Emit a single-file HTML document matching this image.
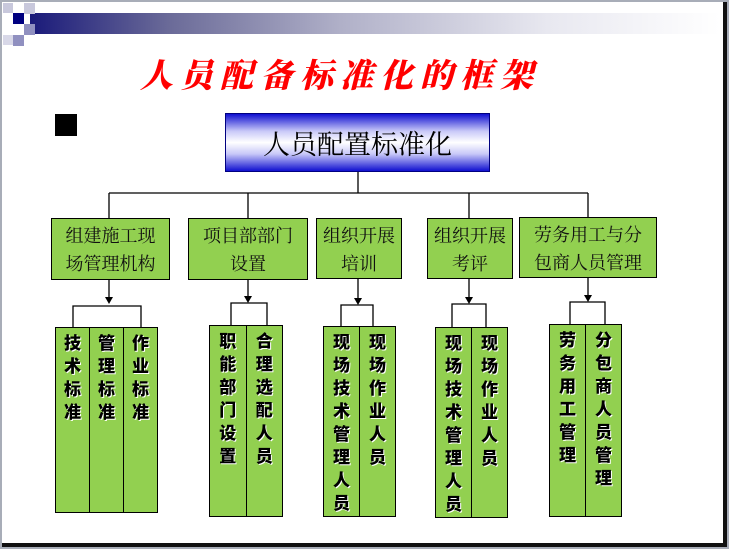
<!DOCTYPE html>
<html><head><meta charset="utf-8"><style>
body{margin:0;width:729px;height:549px;background:#a8adb8;position:relative;overflow:hidden;font-family:"Liberation Sans","Noto Sans CJK SC",sans-serif}
.slide{position:absolute;left:2px;top:2px;width:721px;height:541px;background:#fff;border-right:4px solid #111;border-bottom:4px solid #111}
.a{position:absolute}
.mid{position:absolute;background:#92d050;border:1.5px solid #000;box-sizing:border-box;font-family:"Noto Serif CJK SC","Noto Sans CJK SC",serif;font-size:18px;line-height:28px;text-align:center;display:flex;align-items:center;justify-content:center;color:#111}
.col{position:absolute;background:#92d050;border:1.5px solid #000;box-sizing:border-box;display:flex}
.col div{flex:1;border-left:1.5px solid #000;font-family:"Noto Sans CJK SC",sans-serif;font-weight:900;font-size:17px;line-height:23px;text-align:center;padding-top:2px;text-shadow:1px 1px 0 #fff;color:#000;word-break:break-all}
.col div:first-child{border-left:none}
</style></head><body>
<div class="slide"></div>
<div class="a" style="left:30px;top:13px;width:690px;height:21px;background:linear-gradient(90deg,#1a1a7a,#6a6a98 20%,#b0b0c8 45%,#e8e8f0 75%,#fff)"></div>
<div class="a" style="left:3px;top:3px;width:10px;height:10px;background:#c8c8dc"></div>
<div class="a" style="left:13px;top:13px;width:11px;height:11px;background:#000080"></div>
<div class="a" style="left:24px;top:3px;width:11px;height:11px;background:#c8c8dc"></div>
<div class="a" style="left:24px;top:24px;width:11px;height:11px;background:#9090c0"></div>
<div class="a" style="left:13px;top:35px;width:11px;height:11px;background:#9090c0"></div>
<div class="a" style="left:3px;top:35px;width:10px;height:10px;background:#d8d8e8"></div>
<div class="a" style="left:130px;top:50px;width:420px;text-align:center;color:#ff0000;font-family:'Noto Serif CJK SC',serif;font-weight:900;font-size:33px;letter-spacing:7px;font-style:italic">人员配备标准化的框架</div>
<div class="a" style="left:55px;top:114px;width:22px;height:22px;background:#000"></div>
<div class="a" style="left:225px;top:113px;width:265px;height:59px;border:1px solid #000080;box-sizing:border-box;background:linear-gradient(180deg,#1010d0,#c8c8f8 30%,#fff 50%,#c8c8f8 70%,#1010d0);text-align:center;font-family:'Noto Serif CJK SC',serif;font-size:27px;line-height:57px;color:#000">人员配置标准化</div>
<svg class="a" style="left:0;top:0" width="729" height="549">
<g stroke="#000" stroke-width="1.3" fill="none">
<path d="M358 172V193M109 193H588M109 193V218M248 193V218M469 193V218M588 193V217"/>
<path d="M109 280V297M248 280V296M358 279V298M469 279V297M588 278V296"/>
<path d="M73 327V306H141V327M231 325V303H267V325M341 326V305H373V326M452 327V304H486V327M570 324V302H605V324"/>
</g>
<g fill="#000">
<path d="M105 297h8l-4 7z"/><path d="M244 296h8l-4 7z"/><path d="M354 298h8l-4 7z"/><path d="M465 297h8l-4 7z"/><path d="M584 295h8l-4 7z"/>
</g>
</svg>
<div class="mid" style="left:51px;top:218px;width:119px;height:62px">组建施工现<br>场管理机构</div>
<div class="mid" style="left:188px;top:218px;width:120px;height:62px">项目部部门<br>设置</div>
<div class="mid" style="left:316px;top:218px;width:86px;height:61px">组织开展<br>培训</div>
<div class="mid" style="left:427px;top:218px;width:86px;height:61px">组织开展<br>考评</div>
<div class="mid" style="left:519px;top:217px;width:138px;height:61px">劳务用工与分<br>包商人员管理</div>
<div class="col" style="left:55px;top:327px;width:103px;height:186px"><div>技<br>术<br>标<br>准</div><div>管<br>理<br>标<br>准</div><div>作<br>业<br>标<br>准</div></div>
<div class="col" style="left:209px;top:325px;width:74px;height:192px"><div>职<br>能<br>部<br>门<br>设<br>置</div><div>合<br>理<br>选<br>配<br>人<br>员</div></div>
<div class="col" style="left:323px;top:326px;width:73px;height:191px"><div>现<br>场<br>技<br>术<br>管<br>理<br>人<br>员</div><div>现<br>场<br>作<br>业<br>人<br>员</div></div>
<div class="col" style="left:435px;top:327px;width:73px;height:191px"><div>现<br>场<br>技<br>术<br>管<br>理<br>人<br>员</div><div>现<br>场<br>作<br>业<br>人<br>员</div></div>
<div class="col" style="left:549px;top:324px;width:73px;height:193px"><div>劳<br>务<br>用<br>工<br>管<br>理</div><div>分<br>包<br>商<br>人<br>员<br>管<br>理</div></div>
</body></html>
